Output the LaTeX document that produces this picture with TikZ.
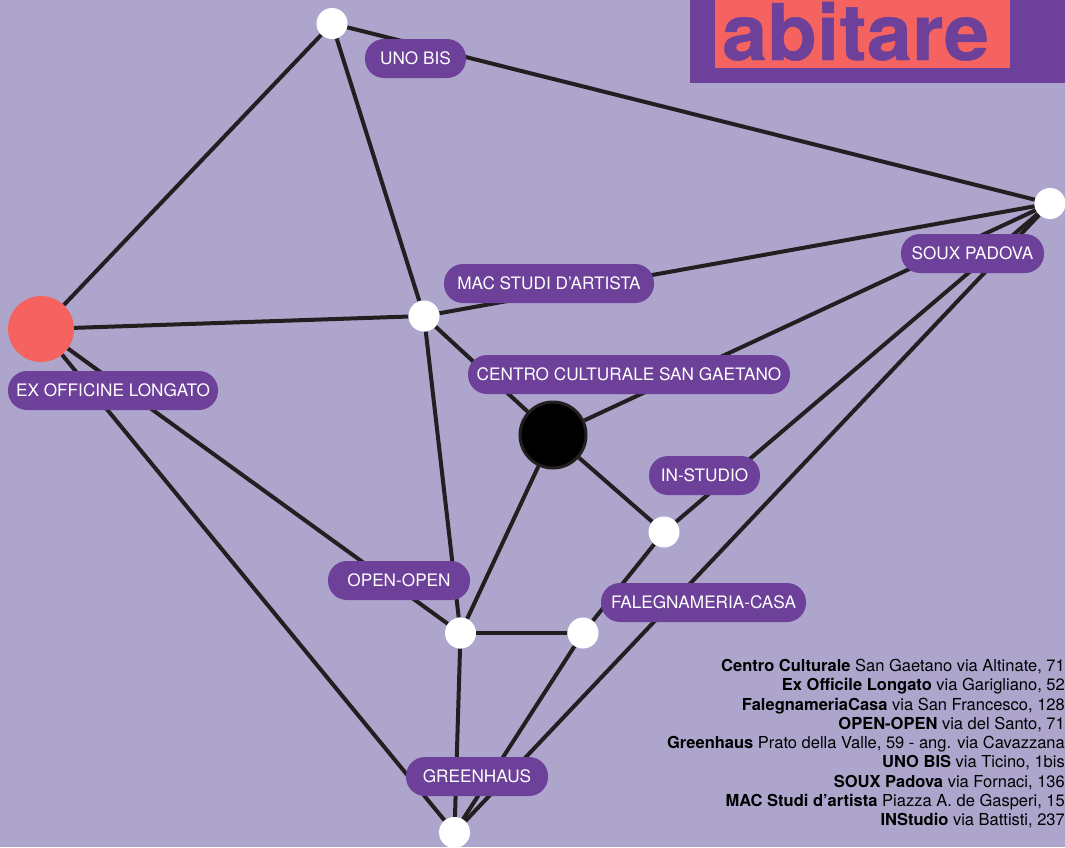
\documentclass[tikz,border=0pt]{standalone}
\usepackage{fontspec}
\setmainfont{TeX Gyre Heros}
\newfontfamily\ttlfont[FakeStretch=1.04,FakeBold=0.6]{TeX Gyre Heros Bold}
\pgfdeclarelayer{edgelayer}
\pgfdeclarelayer{paper}
\pgfsetlayers{paper,edgelayer,main}
\definecolor{bgc}{HTML}{AEA5CD}
\definecolor{purp}{HTML}{6D4199}
\definecolor{coral}{HTML}{F46360}
\definecolor{ink}{HTML}{231F20}
\tikzset{
  stop/.style={circle,fill=white,inner sep=0pt,minimum size=31pt},
  bigstop/.style={circle,inner sep=0pt,minimum size=66pt},
  tag/.style={rectangle,rounded corners=19pt,fill=purp,text=white,inner sep=0pt,minimum height=39pt,font=\fontsize{17.2}{17.2}\selectfont},
  link/.style={draw=ink,line width=4pt},
}
\begin{document}
\begin{tikzpicture}[x=1pt,y=-1pt]
\useasboundingbox (0,0) rectangle (1065,847);
\begin{pgfonlayer}{paper}
\fill[bgc] (0,0) rectangle (1065,847);
\end{pgfonlayer}
\fill[purp] (690,0) rectangle (1065,83);
\fill[coral] (715,0) rectangle (1010,68);
\node[anchor=base west,inner sep=0pt,text=purp,font=\fontsize{78}{78}\selectfont\ttlfont] (title) at (722,60) {abitare};

\node[stop] (a) at (332,23.5) {};
\node[stop] (b) at (1050,203.5) {};
\node[bigstop,fill=coral] (c) at (41,329) {};
\node[stop] (d) at (424,316) {};
\node[bigstop,fill=black,draw=ink,line width=3pt] (e) at (553,435) {};
\node[stop] (f) at (664,532) {};
\node[stop] (g) at (460.5,633) {};
\node[stop] (h) at (583,633) {};
\node[stop] (i) at (454.5,832.5) {};

\begin{pgfonlayer}{edgelayer}
\draw[link] (a) -- (b);
\draw[link] (a) -- (c);
\draw[link] (a) -- (d);
\draw[link] (c) -- (d);
\draw[link] (d) -- (b);
\draw[link] (d) -- (e);
\draw[link] (d) -- (g);
\draw[link] (e) -- (b);
\draw[link] (e) -- (f);
\draw[link] (e) -- (g);
\draw[link] (c) -- (g);
\draw[link] (c) -- (i);
\draw[link] (g) -- (h);
\draw[link] (g) -- (i);
\draw[link] (h) -- (f);
\draw[link] (f) -- (b);
\draw[link] (h) -- (i);
\draw[link] (i) -- (b);
\end{pgfonlayer}

\node[tag,minimum width=101pt] (t1) at (415.5,58.5) {UNO BIS};
\node[tag,minimum width=210pt] (t2) at (549,283.5) {MAC STUDI D’ARTISTA};
\node[tag,minimum width=143pt] (t3) at (972.5,253.5) {SOUX PADOVA};
\node[tag,minimum width=322pt] (t4) at (629,374.5) {CENTRO CULTURALE SAN GAETANO};
\node[tag,minimum width=210pt] (t5) at (113,390.5) {EX OFFICINE LONGATO};
\node[tag,minimum width=111pt] (t6) at (704.5,475.5) {IN-STUDIO};
\node[tag,minimum width=142pt] (t7) at (399,580.5) {OPEN-OPEN};
\node[tag,minimum width=205pt] (t8) at (703.5,602.5) {FALEGNAMERIA-CASA};
\node[tag,minimum width=142pt] (t9) at (477,776.5) {GREENHAUS};

\node[anchor=base east,inner sep=0pt,align=right,text=black,font=\fontsize{16.5}{19.25}\selectfont] (addr) at (1065,825.7) {%
\textbf{Centro Culturale} San Gaetano via Altinate, 71\\
\textbf{Ex Officile Longato} via Garigliano, 52\\
\textbf{FalegnameriaCasa} via San Francesco, 128\\
\textbf{OPEN-OPEN} via del Santo, 71\\
\textbf{Greenhaus} Prato della Valle, 59 - ang. via Cavazzana\\
\textbf{UNO BIS} via Ticino, 1bis\\
\textbf{SOUX Padova} via Fornaci, 136\\
\textbf{MAC Studi d’artista} Piazza A. de Gasperi, 15\\
\textbf{INStudio} via Battisti, 237};
\end{tikzpicture}
\end{document}
